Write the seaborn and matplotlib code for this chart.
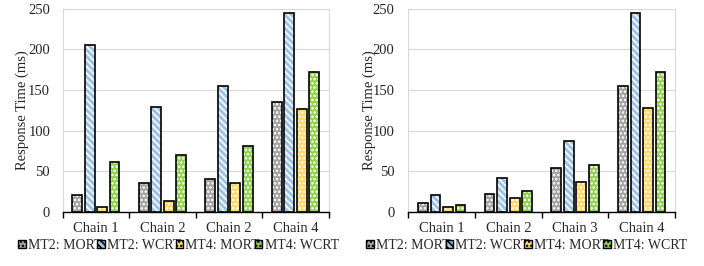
import numpy as np
import pandas as pd
import seaborn as sns
import matplotlib.pyplot as plt
from matplotlib.patches import Rectangle, Patch

# Chart data
series = ["MT2: MORT", "MT2: WCRT", "MT4: MORT", "MT4: WCRT"]
chains_left = ["Chain 1", "Chain 2", "Chain 2 ", "Chain 4"]
chains_right = ["Chain 1", "Chain 2", "Chain 3", "Chain 4"]

left_mt2_mort = [21, 36, 41, 135]
left_mt2_wcrt = [205, 129, 155, 245]
left_mt4_mort = [6, 14, 36, 127]
left_mt4_wcrt = [61, 70, 81, 172]

right_mt2_mort = [11, 22, 54, 155]
right_mt2_wcrt = [21, 42, 87, 245]
right_mt4_mort = [6, 17, 37, 128]
right_mt4_wcrt = [9, 26, 58, 172]

colors = ["#a3a3a3", "#9dc3e6", "#ffd966", "#92d050"]
hatches = ["....", "\\\\\\\\\\", "....", "...."]

sns.set_style("white")
plt.rcParams["font.family"] = ["Liberation Serif", "DejaVu Serif"]
plt.rcParams["hatch.linewidth"] = 1.2


def make_frame(chains, vals):
    rows = []
    for s, v in zip(series, vals):
        for c, y in zip(chains, v):
            rows.append({"chain": c, "series": s, "value": y})
    return pd.DataFrame(rows)


def draw_panel(ax, chains, vals, label_x, legend_x, ypad):
    df = make_frame(chains, vals)
    sns.barplot(data=df, x="chain", y="value", hue="series", hue_order=series,
                palette=colors, width=0.75, gap=0.22, ax=ax, legend=False,
                linewidth=0, saturation=1)
    # white hatch overlay plus black outline, taken from the drawn bars
    for cont, h in zip(ax.containers, hatches):
        for bar in cont:
            x, y = bar.get_xy()
            w, hgt = bar.get_width(), bar.get_height()
            ax.add_patch(Rectangle((x, y), w, hgt, facecolor="none",
                                   edgecolor="white", hatch=h, linewidth=0, zorder=3))
            ax.add_patch(Rectangle((x, y), w, hgt, facecolor="none",
                                   edgecolor="black", linewidth=1.2, zorder=4))
    ax.set_ylim(0, 250)
    ax.set_xlim(-0.5, len(chains) - 0.5)
    ax.set_yticks(np.arange(0, 251, 50))
    ax.yaxis.grid(True, color="#d9d9d9", linewidth=0.8)
    ax.set_axisbelow(True)
    ax.set_xlabel("")
    ax.set_ylabel("Response Time (ms)", fontsize=10.5)
    ax.yaxis.set_label_coords(label_x, 0.5)
    for side in ["top", "right", "left"]:
        ax.spines[side].set_color("#d9d9d9")
        ax.spines[side].set_linewidth(0.8)
    ax.spines["bottom"].set_color("black")
    ax.spines["bottom"].set_linewidth(1.0)
    # ticks at category boundaries
    ax.set_xticks(np.arange(len(chains)))
    ax.set_xticklabels([c.strip() for c in chains])
    ax.set_xticks(np.arange(-0.5, len(chains), 1.0), minor=True)
    ax.tick_params(axis="x", which="major", length=0, labelsize=10.5, pad=7.5)
    ax.tick_params(axis="x", which="minor", length=4, width=1.0, color="black",
                   direction="out", bottom=True)
    ax.tick_params(axis="y", length=0, labelsize=10.5, pad=ypad)
    handles = [Patch(facecolor=c, edgecolor="black", hatch=h, linewidth=1.0)
               for c, h in zip(colors, hatches)]
    ax.legend(handles, series, loc="center left", bbox_to_anchor=(legend_x, -0.165),
              ncol=4, frameon=False, fontsize=10, handlelength=0.55,
              handleheight=0.55, handletextpad=0.15, columnspacing=-0.37,
              borderaxespad=0, borderpad=0)


fig = plt.figure(figsize=(7.04, 2.66), dpi=100)
ax1 = fig.add_axes([0.089, 0.203, 0.378, 0.764])
ax2 = fig.add_axes([0.580, 0.203, 0.379, 0.764])

draw_panel(ax1, chains_left,
           [left_mt2_mort, left_mt2_wcrt, left_mt4_mort, left_mt4_wcrt],
           -0.125, -0.168, 9)
draw_panel(ax2, chains_right,
           [right_mt2_mort, right_mt2_wcrt, right_mt4_mort, right_mt4_wcrt],
           -0.12, -0.157, 10)

fig.savefig("out.png", dpi=100)
